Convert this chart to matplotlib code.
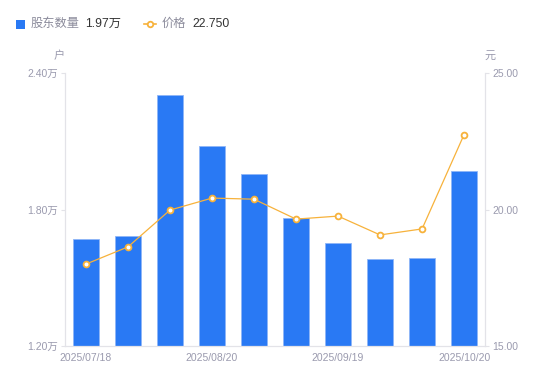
import matplotlib
matplotlib.use("Agg")
import matplotlib.pyplot as plt
from matplotlib.lines import Line2D
from matplotlib.patches import Rectangle
import numpy as np

plt.rcParams["font.family"] = ["Liberation Sans", "Noto Sans CJK SC", "DejaVu Sans"]

BAR_COLOR = "#2979F4"
LINE_COLOR = "#F7B23B"
AXIS_COLOR = "#E3E3E8"
TICK_TEXT = "#9A9AAE"

dates = ["2025/07/18", "2025/07/31", "2025/08/10", "2025/08/20", "2025/08/31",
         "2025/09/10", "2025/09/19", "2025/09/30", "2025/10/10", "2025/10/20"]
holders = [1.670, 1.683, 2.303, 2.079, 1.956, 1.763, 1.653, 1.582, 1.587, 1.970]  # 万户
price = [18.00, 18.63, 19.98, 20.42, 20.38, 19.65, 19.76, 19.07, 19.29, 22.75]

left_ticks = [1.20, 1.80, 2.40]
right_ticks = [15.00, 20.00, 25.00]

fig = plt.figure(figsize=(5.5, 3.81), dpi=100)
ax = fig.add_axes([0.118, 0.092, 0.764, 0.716])
ax2 = ax.twinx()

x = np.arange(len(dates))
ax.bar(x, holders, width=0.6, color=BAR_COLOR, edgecolor="#8FB6F7", linewidth=0.6, zorder=2)
ax.set_ylim(1.20, 2.40)
ax.set_xlim(-0.5, len(dates) - 0.5)
ax.set_yticks(left_ticks)
ax.set_yticklabels([f"{v:.2f}万" for v in left_ticks])
show = [0, 3, 6, 9]
ax.set_xticks(show)
ax.set_xticklabels([dates[i] for i in show])

ax2.plot(x, price, color=LINE_COLOR, linewidth=0.9, marker="o", markersize=4.2,
         markerfacecolor="white", markeredgecolor=LINE_COLOR, markeredgewidth=1.3, zorder=3)
ax2.set_ylim(15, 25)
ax2.set_yticks(right_ticks)
ax2.set_yticklabels([f"{v:.2f}" for v in right_ticks])

for a in (ax, ax2):
    for s in a.spines.values():
        s.set_visible(False)
    a.tick_params(axis="both", colors=AXIS_COLOR, labelcolor=TICK_TEXT, labelsize=7.5,
                  length=3, width=0.8, pad=2)
ax.spines["left"].set_visible(True)
ax.spines["bottom"].set_visible(True)
ax2.spines["right"].set_visible(True)
for s in (ax.spines["left"], ax.spines["bottom"], ax2.spines["right"]):
    s.set_color(AXIS_COLOR)
    s.set_linewidth(0.9)
ax.tick_params(axis="x", length=0, pad=5)
ax2.set_zorder(ax.get_zorder() + 1)
ax2.patch.set_visible(False)

# unit labels
fig.text(59 / 550, 1 - 56 / 381, "户", color=TICK_TEXT, fontsize=8, ha="center", va="center")
fig.text(490 / 550, 1 - 56 / 381, "元", color=TICK_TEXT, fontsize=8, ha="center", va="center")

# legend
ly = 1 - 24 / 381
fig.add_artist(Rectangle((16 / 550, ly - 4.5 / 381), 9 / 550, 9 / 381, transform=fig.transFigure,
                         facecolor=BAR_COLOR, edgecolor="none"))
fig.text(31 / 550, ly, "股东数量", color="#8C8C9C", fontsize=8.8, ha="left", va="center")
fig.text(85 / 550, ly, "1.97万", color="#333333", fontsize=8.8, ha="left", va="center")
fig.add_artist(Line2D([144 / 550, 156 / 550], [ly, ly], transform=fig.transFigure,
                      color=LINE_COLOR, linewidth=1.2))
fig.add_artist(Line2D([150 / 550], [ly], transform=fig.transFigure, marker="o", markersize=4,
                      markerfacecolor="white", markeredgecolor=LINE_COLOR, markeredgewidth=1.3))
fig.text(162 / 550, ly, "价格", color="#8C8C9C", fontsize=8.8, ha="left", va="center")
fig.text(192 / 550, ly, "22.750", color="#333333", fontsize=8.8, ha="left", va="center")

fig.savefig("out.png", dpi=100)
